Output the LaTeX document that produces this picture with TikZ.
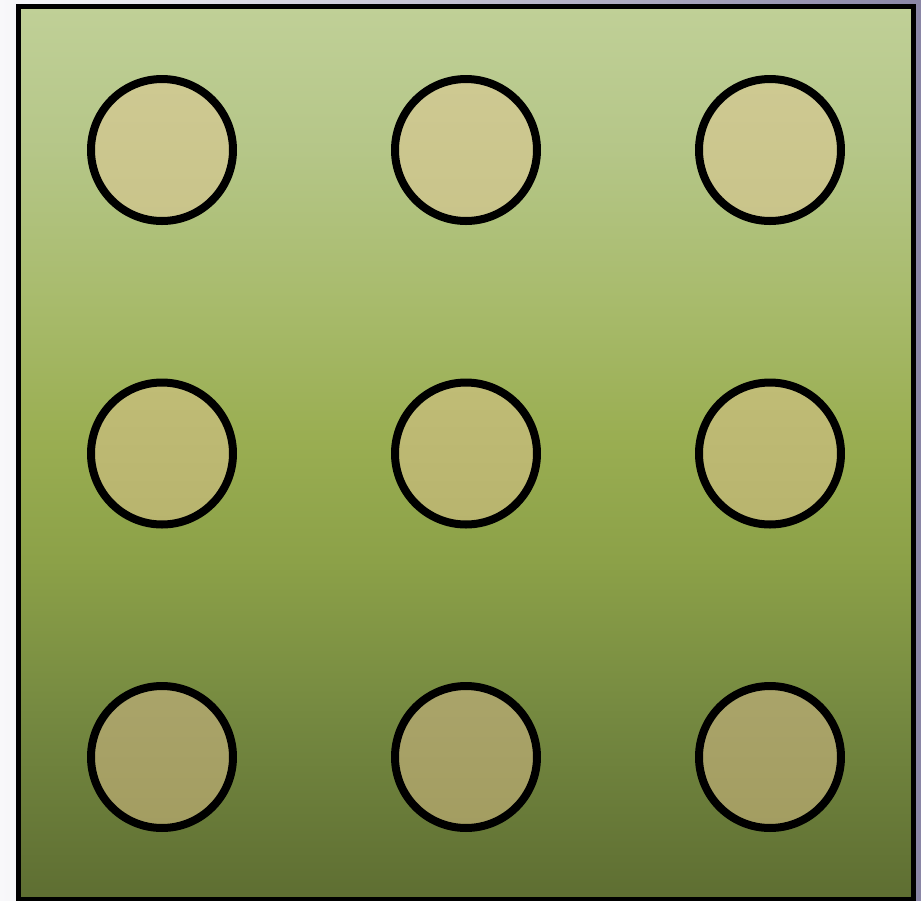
\documentclass[tikz,border=0pt]{standalone}
\definecolor{bgL}{HTML}{F8F8FA}
\definecolor{bgR}{HTML}{8A86A6}
\definecolor{g100}{HTML}{C0D097}
\definecolor{g84}{HTML}{B5C688}
\definecolor{g67}{HTML}{A8BB6C}
\definecolor{g52}{HTML}{9AAE52}
\definecolor{g38}{HTML}{8CA148}
\definecolor{g20}{HTML}{748840}
\definecolor{g0}{HTML}{5E6E32}
\pgfdeclarehorizontalshading{outerbg}{100bp}{
  color(0bp)=(bgL); color(25bp)=(bgL); color(75bp)=(bgR); color(100bp)=(bgR)}
\pgfdeclareverticalshading{greenbg}{100bp}{
  color(0bp)=(g0); color(25bp)=(g0); color(35bp)=(g20); color(44bp)=(g38); color(51bp)=(g52);
  color(58.5bp)=(g67); color(67bp)=(g84); color(75bp)=(g100); color(100bp)=(g100)}
\begin{document}
\begin{tikzpicture}[x=0.1cm,y=-0.1cm,
  frame/.style={draw=black,line width=0.5mm},
  dot/.style={circle,draw=black,line width=0.8mm,minimum size=14.2mm,inner sep=0pt}]
\useasboundingbox (0,0) rectangle (92.1,90.1);
\fill[shading=outerbg] (0,0) rectangle (92.1,90.1);
\fill[shading=greenbg] (1.85,0.65) rectangle (91.35,89.9);
\draw[frame] (1.85,0.65) rectangle (91.35,89.9);
\foreach \cx/\n in {16.2/a,46.6/b,77.0/c}{
  \node[dot,top color={rgb,255:red,206;green,201;blue,146},bottom color={rgb,255:red,201;green,196;blue,138}] (r1\n) at (\cx,15.0) {};
  \node[dot,top color={rgb,255:red,192;green,188;blue,118},bottom color={rgb,255:red,184;green,180;blue,110}] (r2\n) at (\cx,45.35) {};
  \node[dot,top color={rgb,255:red,170;green,164;blue,106},bottom color={rgb,255:red,163;green,157;blue,97}] (r3\n) at (\cx,75.7) {};
}
\end{tikzpicture}
\end{document}
